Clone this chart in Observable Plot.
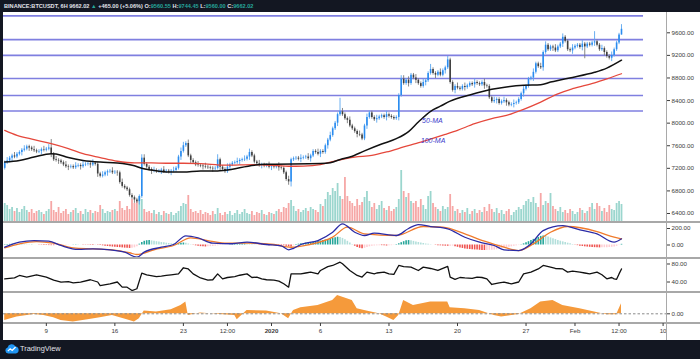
<!DOCTYPE html>
<html><head><meta charset="utf-8">
<script src="https://cdn.jsdelivr.net/npm/d3@7"></script>
<script src="https://cdn.jsdelivr.net/npm/@observablehq/plot@0.6"></script>
<style>
html,body{margin:0;padding:0;background:#131722;width:700px;height:359px;overflow:hidden;font-family:"Liberation Sans",Arial,sans-serif;}
#chart{position:absolute;left:0;top:0;width:700px;height:359px;}
#frame{position:absolute;left:3px;top:12px;width:697px;height:328px;background:#fff;}
#header{position:absolute;left:4px;top:1px;font-size:5.6px;font-weight:bold;color:#e1e3ea;white-space:nowrap;line-height:10px;}
#header .g{color:#26a69a}
.sep{position:absolute;left:3px;width:697px;height:1.5px;background:#a8a8a8;}
#vline{position:absolute;left:666px;top:12px;width:1px;height:328px;background:#a9a9a9;}
#footer{position:absolute;left:5px;top:343px;height:12px;color:#e1e3ea;font-size:7.4px;white-space:nowrap;}
#footer svg{vertical-align:middle;}
#xaxisWrap{position:absolute;left:0;top:322px;width:666px;height:18px;overflow:hidden;}
#chart svg{max-width:none !important;}
</style>
</head>
<body>
<div id="frame"></div>
<div id="header"></div>
<div id="chart"></div>
<div id="footer"><svg width="14" height="11" viewBox="0 0 14 11"><path d="M3.2 10.5 A3 3 0 0 1 2.6 4.6 A4.2 4.2 0 0 1 10.4 3.4 A3.6 3.6 0 0 1 10.8 10.5 Z" fill="#2196f3"/><polyline points="2.8,8.2 5.2,5.8 7.2,7.4 10.6,4" stroke="#fff" fill="none" stroke-width="1.2"/></svg><span style="vertical-align:middle;margin-left:1px">TradingView</span></div>
<script>
// ---------------- DATA ----------------
const headerSymbol = "BINANCE:BTCUSDT, 6H";
const headerLast = 9662.02, headerChange = 465.00, headerPct = 5.06;
const headerOHLC = [9560.55, 9744.45, 9560.00, 9662.02];

// 6H closes, first bar 2019-12-04 18:00 UTC
const firstOpen = 7200;
const closes = [
 7300,
 7330,7380,7420,7400, 7450,7480,7520,7540, 7580,7560,7530,7510, 7490,7500,7530,7520,
 7540,7560,7450,7350, 7340,7330,7300,7260, 7230,7220,7230,7210, 7240,7250,7230,7260,
 7270,7280,7260,7290, 7270,7100,7060,7080, 7120,7140,7150,7120, 7130,7120,6950,6880,
 6850,6820,6720,6680, 6640,6610,6700,7380, 7270,7220,7180,7150, 7160,7140,7150,7170,
 7140,7150,7130,7150, 7160,7200,7400,7500, 7600,7640,7420,7340, 7300,7260,7250,7240,
 7230,7220,7210,7200, 7190,7200,7350,7220, 7180,7140,7220,7260, 7290,7300,7320,7340,
 7350,7360,7400,7480, 7420,7310,7280,7250, 7260,7240,7250,7220,
 7230,7220,7240,7210, 7200,7120,7000,6960, 7350,7370,7380,7360, 7380,7390,7400,7370,
 7420,7500,7480,7450, 7500,7480,7600,7700, 7780,7900,8000,8150, 8200,8150,8080,8050,
 7950,7900,7850,7800, 7790,7720,7950,8100, 8180,8100,8060,8080, 8110,8130,8100,8150,
 8120,8100,8080,8100, 8490,8780,8700,8760, 8700,8850,8800,8760, 8700,8650,8720,8750,
 8880,8950,8880,8850, 8900,8850,8930,8980, 9120,8720,8580,8650, 8620,8600,8650,8630,
 8660,8700,8680,8720, 8700,8680,8720,8660, 8650,8450,8380,8400, 8420,8350,8380,8400,
 8360,8320,8330,8350, 8360,8420,8520,8600, 8650,8780,8800,8900, 9050,9000,8980,9250,
 9380,9300,9350,9330, 9280,9350,9400,9520, 9450,9300,9280,9330,
 9360,9380,9340,9400, 9350,9400,9380,9420, 9440,9380,9300,9320, 9250,9180,9150,9200,
 9300,9420,9560.55,9662.02
];
// wick lengths in units of $30, one digit per bar
const wickUp = ("1211211121 1121112125 1211121112 1121112111 2111211121 1111112211 1211121112 1122121112 1121111311 1211121121 " +
 "2111211121 1121112111 1211211121 1112111821 1211121121 1121112111 1122121121 1211311121 1211121121 1121112111 " +
 "2111211121 1121112112 1211121121 1121112111 1611211121 113");
const wickDn = ("1112111211 2111121112 1121112111 1211121121 1121112111 1112121111 2111211121 1121112111 1211121121 1121112111 " +
 "2111121112 1121112311 1211121112 1121112111 2111211121 1121112111 1211121121 1121112111 2111211121 1121112111 " +
 "1211121121 1121112111 2111211121 1121112711 1211121121 110");
const volume = [
 18,16,12,14,10,13,9,12,15,11, 9,12,8,10,11,9,7,10,12,20, 11,9,14,8,10,12,7,9,11,13,
 8,10,7,12,9,11,8,10,9,16, 12,8,10,9,11,12,10,20,13,11, 15,12,22,18,20,25,22,12,9,10,
 8,11,7,9,6,10,8,7,9,6, 8,10,15,18,17,26,12,9,10,8, 11,7,9,8,6,10,7,13,8,6,
 9,7,10,6,8,11,7,9,12,8, 7,10,6,9,8,11,7,6,9,8, 7,10,12,9,14,13,18,21,15,10,
 12,9,11,13,10,14,12,11,9,17, 15,22,29,26,33,30,38,25,22,44, 25,20,18,15,22,16,19,24,30,20,
 14,18,12,16,20,13,11,15,10,12, 14,22,51,30,24,28,20,18,20,14, 22,16,12,25,30,18,14,12,10,15,
 12,14,27,15,10,12,8,11,9,13, 7,10,12,8,11,9,14,10,17,12, 9,13,8,11,7,10,12,6,9,11,
 14,12,16,20,22,19,24,18,14,28, 16,20,18,28,15,12,10,14,9,11, 8,12,10,7,9,13,11,8,10,14,
 18,12,18,15,10,13,9,16,12,11, 18,20,17
];
// moving averages: [bar index, price]
const ma50Idx = [0,6,12,19,21,26,32,39,46,53,56,60,67,73,80,87,90,102,106,129,133,138,141,147,154,160,165,169,174,178,182,190,199,205,212,219,223,226,232,241,246,252];
const ma50Val = [7312,7340,7400,7460,7455,7390,7340,7310,7295,7245,7200,7170,7135,7135,7153,7153,7165,7255,7270,7284,7300,7370,7400,7510,7630,7725,7850,8020,8210,8300,8390,8500,8600,8640,8670,8680,8727,8757,8810,8900,8975,9115];
const ma100Idx = [0,5,12,19,26,32,39,46,53,60,66,73,80,90,102,116,122,129,136,143,150,156,163,170,180,185,192,199,205,212,219,226,232,241,246,252];
const ma100Val = [7873,7785,7708,7637,7550,7460,7390,7325,7295,7295,7290,7290,7284,7255,7266,7237,7240,7266,7342,7400,7430,7490,7578,7665,7800,7873,7990,8080,8138,8245,8373,8520,8610,8715,8785,8875];
const levels = [9900, 9480, 9200, 8790, 8490, 8215];
const maLabelText = ["50-MA", "100-MA"];
const maLabelTime = ["2020-01-16T09:00Z", "2020-01-16T06:00Z"];
const maLabelPrice = [8050, 7696];

// MACD
const macdIdx = [0,6,12,18,23,30,36,43,49,54,57,64,69,74,79,85,93,99,107,113,116,118,121,128,134,138,143,147,151,160,165,169,174,181,188,194,200,204,210,215,220,228,235,242,249,252];
const macdVal = [-27,34,54,46,-6,-54,-46,-58,-87,-148,-87,-27,6,111,87,22,15,34,6,-10,-58,-40,6,54,155,256,155,115,143,115,200,248,224,196,94,34,-6,-58,-67,14,175,236,184,135,34,75];
const sigIdx = [0,6,13,20,28,36,44,51,54,61,69,76,83,91,100,110,117,124,134,140,147,160,171,179,188,196,204,210,216,223,230,242,249,252];
const sigVal = [-35,14,42,22,-34,-46,-58,-94,-115,-58,-6,87,54,22,22,6,-27,2,95,216,135,115,224,216,135,46,-27,-67,14,155,224,163,94,75];
const macdHist = [
 5,7,8,9,8,7,6,5,4,3, 2,2,1,0,-2,-4,-5,-6,-7,-8, -8,-7,-6,-5,-4,-3,-2,-1,2,3,
 2,1,-2,-3,-4,-5,-5,-4,-4,-6, -10,-14,-18,-22,-25,-28,-30,-32,-35,-38, -40,-42,-38,-34,-20,10,30,45,52,54,
 50,46,40,35,30,26,22,18,16,14, 12,15,22,24,20,12,4,-4,-10,-15, -20,-22,-24,-22,-20,-18,-14,-10,-7,-4,
 -2,0,2,4,6,8,10,12,12,10, 8,6,4,0,-3,-5,-6,-7,-8,-8, -7,-6,-6,-8,-10,-15,-22,-25,-10,5,
 10,14,18,22,26,30,34,38,42,48, 54,60,66,72,80,88,94,92,80,65, 45,25,5,-15,-30,-40,-46,-40,-30,-22,
 -16,-12,-10,-8,-8,-10,-12,-10,-8,-4, 5,15,28,40,50,54,50,44,36,30, 24,18,12,8,4,0,-4,-8,-10,-12,
 -14,-15,-14,-13,-20,-28,-36,-42,-48,-52, -55,-58,-60,-62,-64,-66,-67,-66,-65,-64, -62,-58,-52,-45,-40,-34,-28,-22,-16,-10,
 -4,4,14,26,40,55,68,80,92,104, 110,106,96,86,76,66,56,46,38,30, 22,14,6,-2,-8,-14,-18,-22,-25,-28,
 -30,-32,-34,-35,-34,-33,-32,-30,-28,-24, -16,-4,8
];
// RSI
const rsiIdx = [0,4,6,9,13,17,20,23,26,28,31,35,38,39,43,46,48,50,52,54,56,58,62,64,66,68,71,73,75,77,80,83,85,87,89,91,94,96,99,101,103,105,107,110,112,114,116,117,121,123,125,128,129,132,134,137,138,141,144,146,148,151,152,155,157,159,161,163,166,169,171,174,177,181,182,184,186,188,191,193,195,197,199,202,204,207,210,212,215,218,220,223,225,228,230,232,235,237,239,242,244,246,248,249,250,251,252];
const rsiVal = [47,49,54.5,51,56,51,44,39.6,41,38,39.6,45,40,32,36,40,28.5,28.5,21,25,59.6,56,52,53,54.5,56,58,71.6,69,58,49,44,45,58,47,50,52,55,58,50,51,47,45,44,42,36,28.5,58,58,60,62,58,65.6,74,76.7,84,80.4,65.6,54.5,51,62,58,60,62,58,57,76.7,74,73,65.6,73,70,65.6,74.5,51,46,50,49,48,51,50,47,34.5,38,39.6,36,40,58,62,69,76.7,73,70,69,62,64,62,60,58,62,56,47,50,47,46,58,69];
// lower oscillator (orange)
const oscIdx = [0,5,12,16,20,23,28,34,39,44,50,53,55,57,62,68,72,74,75,80,88,94,95,99,107,113,116,118,121,128,134,136,142,144,147,153,156,159,161,163,167,174,181,182,188,194,200,203,210,215,219,224,228,235,241,246,250,252];
const oscVal = [-6.7,-3.3,-0.7,-1.7,-4,-6.7,-8.3,-6,-4,-1.7,-6,-8.3,-5,2.7,1.7,4,8.3,11.7,-1.7,0.7,-0.7,-1.7,-6,3.3,2.7,0,-5,3.3,6,8.3,13.3,18.3,13.3,5,3.3,0,-3.3,-6.7,-1.7,13.3,8.3,11.7,11.7,6,5,3.3,-1.7,-3.3,-0.7,5,11.7,13.3,8.3,5,1.7,-1,-1,10];

const priceTicks = [6400,6800,7200,7600,8000,8400,8800,9200,9600];
const macdTicks = [0, 200];
const rsiTicks = [40, 80];
const oscTicks = [0];
const xTickDates = ["2019-12-09","2019-12-16","2019-12-23","2019-12-27T12:00Z","2020-01-01","2020-01-06","2020-01-13","2020-01-20","2020-01-27","2020-02-01","2020-02-05T12:00Z","2020-02-10"];
const xTickLabels = ["9","16","23","12:00","2020","6","13","20","27","Feb","12:00","10"];

// ---------------- LAYOUT ----------------
const FONT = "'Liberation Sans', Arial, sans-serif";
const DAY = 864e5, H6 = 6 * 3600e3;
const jan1 = Date.UTC(2020, 0, 1);
const PX_PER_DAY = 9.79, X_JAN1 = 271, X_LEFT = 3, X_RIGHT = 666;
const xDomain = [new Date(jan1 - (X_JAN1 - X_LEFT) / PX_PER_DAY * DAY), new Date(jan1 + (X_RIGHT - X_JAN1) / PX_PER_DAY * DAY)];
const levelStart = xDomain[0], levelEnd = new Date(Date.UTC(2020, 1, 8));
const firstBar = Date.UTC(2019, 11, 4, 18);
const barTime = i => new Date(firstBar + i * H6);

const wu = wickUp.replace(/ /g, ""), wd = wickDn.replace(/ /g, "");
const bars = closes.map((c, i) => {
  const o = i === 0 ? firstOpen : closes[i - 1];
  return {t: barTime(i), o, c, up: c >= o, h: Math.max(o, c) + (+wu[i]) * 30, l: Math.min(o, c) - (+wd[i]) * 30, v: volume[i]};
});
const last = bars[bars.length - 1];
last.o = headerOHLC[0]; last.h = headerOHLC[1]; last.l = headerOHLC[2]; last.c = headerOHLC[3];

const pairs = (idx, val) => idx.map((k, j) => ({t: barTime(k), v: val[j]}));
const ma50 = pairs(ma50Idx, ma50Val), ma100 = pairs(ma100Idx, ma100Val);
const macd = pairs(macdIdx, macdVal), sig = pairs(sigIdx, sigVal);
const rsi = pairs(rsiIdx, rsiVal), osc = pairs(oscIdx, oscVal);
const hist = macdHist.map((h, i) => ({t: barTime(i), h,
  col: h >= 0 ? (i > 0 && h < macdHist[i - 1] ? "#b2dfdb" : "#26a69a") : (i > 0 && h > macdHist[i - 1] ? "#ffcdd2" : "#ef5350")}));
const maLabels = maLabelText.map((s, j) => ({s, t: new Date(maLabelTime[j]), v: maLabelPrice[j]}));

// header
const f2 = v => v.toFixed(2);
document.getElementById("header").innerHTML =
  `${headerSymbol} ${f2(headerLast)} <span class="g">▲</span> +${f2(headerChange)} (+${f2(headerPct)}%) ` +
  `O:<span class="g">${f2(headerOHLC[0])}</span> H:<span class="g">${f2(headerOHLC[1])}</span> ` +
  `L:<span class="g">${f2(headerOHLC[2])}</span> C:<span class="g">${f2(headerOHLC[3])}</span>`;

const root = document.getElementById("chart");
function addPlot(top, height, cfg, parent) {
  const svg = Plot.plot(Object.assign({
    width: 700, height, marginLeft: X_LEFT, marginRight: 700 - X_RIGHT, marginTop: 0, marginBottom: 0,
    x: {type: "utc", domain: xDomain, axis: null},
    color: {type: "identity"},
    style: {background: "transparent", fontSize: "6.2px", fontFamily: FONT, color: "#3b3b3b", overflow: "visible", maxWidth: "none"}
  }, cfg));
  svg.style.position = "absolute"; svg.style.left = "0px"; svg.style.top = top + "px";
  svg.style.maxWidth = "none"; svg.style.width = "700px";
  (parent || root).appendChild(svg);
  return svg;
}
const yAxis = (domain, ticks) => ({domain, axis: "right", ticks, tickFormat: d => d.toFixed(2), tickSize: 3, tickPadding: 2, label: null});

// volume (behind price)
addPlot(12, 210, {
  marginBottom: 1,
  y: {domain: [0, 209], axis: null},
  marks: [Plot.ruleX(bars, {x: "t", y1: 0, y2: "v", stroke: d => d.up ? "#9bd6ce" : "#f6a7a6", strokeWidth: 1.8})]
});
// price
addPlot(12, 210, {
  y: yAxis([6240.6, 9959.5], priceTicks),
  marks: [
    Plot.ruleY(levels, {y: d => d, x1: () => levelStart, x2: () => levelEnd, stroke: "#7f7fe0", strokeWidth: 1.6}),
    Plot.ruleX(bars, {x: "t", y1: "l", y2: "h", stroke: d => d.up ? "#5aa6ee" : "#7a7a7a", strokeWidth: 0.9}),
    Plot.ruleX(bars, {x: "t", y1: "o", y2: "c", stroke: d => d.up ? "#2a8cf0" : "#3f3f3f", strokeWidth: 1.6}),
    Plot.line(ma100, {x: "t", y: "v", stroke: "#e5483c", strokeWidth: 1.3, curve: "monotone-x"}),
    Plot.line(ma50, {x: "t", y: "v", stroke: "#111", strokeWidth: 1.5, curve: "monotone-x"}),
    Plot.text(maLabels, {x: "t", y: "v", text: "s", textAnchor: "start", fill: "#3d3dcc", fontStyle: "italic", fontSize: 7})
  ]
});
// MACD
addPlot(222, 35, {
  y: yAxis([-151.5, 272.7], macdTicks),
  marks: [
    Plot.ruleX(hist, {x: "t", y1: 0, y2: "h", stroke: "col", strokeWidth: 1.6}),
    Plot.line(sig, {x: "t", y: "v", stroke: "#f07b2c", strokeWidth: 1.3, curve: "monotone-x"}),
    Plot.line(macd, {x: "t", y: "v", stroke: "#2b2ba6", strokeWidth: 1.3, curve: "monotone-x"})
  ]
});
// RSI
addPlot(258, 33, {
  y: yAxis([18.9, 92.2], rsiTicks),
  marks: [Plot.line(rsi, {x: "t", y: "v", stroke: "#111", strokeWidth: 1.3})]
});
// oscillator
addPlot(292, 31, {
  y: yAxis([-9.7, 21.3], oscTicks),
  marks: [
    Plot.areaY(osc, {x: "t", y: "v", fill: "#f59a3b"}),
    Plot.ruleY([0], {stroke: "#8a8a8a", strokeDasharray: "2.5,2", strokeWidth: 1})
  ]
});
// separators and right border
[221, 257, 291, 322].forEach(y => { const d = document.createElement("div"); d.className = "sep"; d.style.top = y + "px"; root.appendChild(d); });
const vl = document.createElement("div"); vl.id = "vline"; root.appendChild(vl);
// x axis
const wrap = document.createElement("div"); wrap.id = "xaxisWrap"; root.appendChild(wrap);
const tickDates = xTickDates.map(s => new Date(s.length === 10 ? s + "T00:00Z" : s));
const xa = addPlot(0, 18, {
  marginTop: 1, marginBottom: 17,
  x: {type: "utc", domain: xDomain, ticks: tickDates, tickFormat: d => xTickLabels[tickDates.findIndex(t => +t === +d)], tickSize: 3, tickPadding: 2, label: null},
  marks: [Plot.ruleX(tickDates, {x: d => d, strokeOpacity: 0})]
}, wrap);
xa.querySelectorAll("text").forEach(t => { if (t.textContent === "2020") t.setAttribute("font-weight", "bold"); });
</script>
</body></html>
